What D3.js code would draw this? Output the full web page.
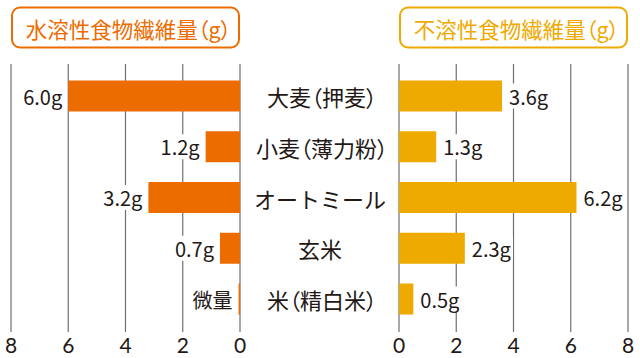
<!DOCTYPE html>
<html><head><meta charset="utf-8">
<script src="https://cdn.jsdelivr.net/npm/d3@7"></script>
<style>
html,body{margin:0;padding:0;background:#fff;}
svg{display:block;font-family:"Noto Sans CJK JP","Noto Sans",sans-serif;}
.palt{font-feature-settings:"palt" 1;}
.num{font-family:Lato,"Noto Sans",sans-serif;}
</style></head>
<body>
<svg id="c" width="640" height="358"></svg>
<script>
const categories = ["大麦（押麦）", "小麦（薄力粉）", "オートミール", "玄米", "米（精白米）"];
const soluble = [6.0, 1.2, 3.2, 0.7, 0.05];
const solubleLabels = ["6.0g", "1.2g", "3.2g", "0.7g", "微量"];
const insoluble = [3.6, 1.3, 6.2, 2.3, 0.5];
const insolubleLabels = ["3.6g", "1.3g", "6.2g", "2.3g", "0.5g"];
const ticks = [0, 2, 4, 6, 8];
const titles = ["水溶性食物繊維量（g）", "不溶性食物繊維量（g）"];

const cLeft = "#ec6c00", cRight = "#eeaa00", textC = "#231815", gridC = "#6f6f6f";
const svg = d3.select("#c");

const xL = d3.scaleLinear().domain([0, 8]).range([240, 11]);
const xR = d3.scaleLinear().domain([0, 8]).range([399, 628]);
const y = d3.scalePoint().domain(categories).range([96, 299]);
const barH = 31, gridTop = 64, gridBot = 332;

// header boxes
[[xL, cLeft, titles[0]], [xR, cRight, titles[1]]].forEach(([sc, col, t]) => {
  const x0 = Math.min(sc(0), sc(8)), x1 = Math.max(sc(0), sc(8));
  svg.append("rect").attr("x", x0 + 1).attr("y", 7.5).attr("width", x1 - x0 - 2).attr("height", 40)
    .attr("rx", 8).attr("fill", "#fff").attr("stroke", col).attr("stroke-width", 2);
  svg.append("text").attr("class", "palt").attr("x", (x0 + x1) / 2 + 3).attr("y", 28)
    .attr("text-anchor", "middle")
    .attr("dominant-baseline", "central").attr("font-size", 21.5).attr("fill", col).text(t);
});

// gridlines
[xL, xR].forEach(sc => {
  svg.append("g").selectAll("line").data(ticks).join("line")
    .attr("x1", d => sc(d)).attr("x2", d => sc(d)).attr("y1", gridTop).attr("y2", gridBot)
    .attr("stroke", gridC).attr("stroke-width", 1.2);
  svg.append("g").selectAll("text").data(ticks).join("text")
    .attr("class", "num")
    .attr("x", d => sc(d)).attr("y", 353).attr("text-anchor", "middle")
    .attr("font-size", 21).attr("fill", textC).text(d => d);
});

// bars
svg.append("g").selectAll("rect").data(soluble).join("rect")
  .attr("x", d => xL(d)).attr("width", d => xL(0) - xL(d))
  .attr("y", (d, i) => y(categories[i]) - barH / 2).attr("height", barH).attr("fill", cLeft);
svg.append("g").selectAll("rect").data(insoluble).join("rect")
  .attr("x", xR(0)).attr("width", d => xR(d) - xR(0))
  .attr("y", (d, i) => y(categories[i]) - barH / 2).attr("height", barH).attr("fill", cRight);

// value labels with white background
function labels(vals, labs, sc, side) {
  const g = svg.append("g");
  vals.forEach((v, i) => {
    const t = g.append("text")
      .attr("x", side < 0 ? sc(v) - 6 : sc(v) + 7)
      .attr("y", y(categories[i]))
      .attr("text-anchor", side < 0 ? "end" : "start")
      .attr("dominant-baseline", "central")
      .attr("font-size", 20).attr("fill", textC).text(labs[i]);
    const b = t.node().getBBox();
    g.insert("rect", "text").attr("x", b.x - 2).attr("y", b.y + 2).attr("width", b.width + 4)
      .attr("height", b.height - 4).attr("fill", "#fff");
  });
}
labels(soluble, solubleLabels, xL, -1);
labels(insoluble, insolubleLabels, xR, 1);

// category labels
svg.append("g").selectAll("text").data(categories).join("text")
  .attr("class", d => d.includes("（") ? "palt" : null)
  .attr("x", d => d.includes("（") ? 322 : 320).attr("y", d => y(d)).attr("text-anchor", "middle")
  .attr("dominant-baseline", "central").attr("font-size", 22).attr("fill", textC).text(d => d);
</script>
</body></html>
